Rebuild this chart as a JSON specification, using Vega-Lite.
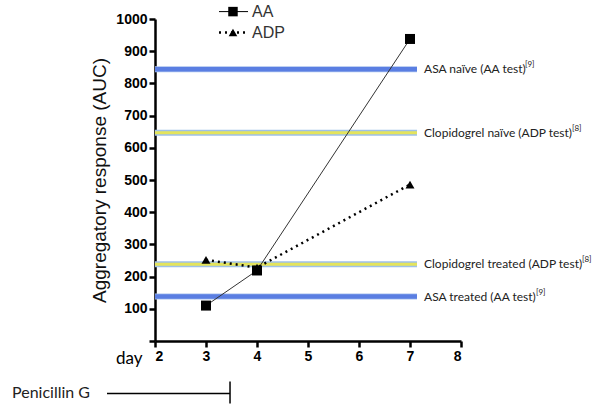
{
  "$schema": "https://vega.github.io/schema/vega-lite/v6.json",
  "width": 306,
  "height": 322,
  "autosize": {"type": "none"},
  "padding": {"left": 155, "top": 19, "right": 139, "bottom": 69},
  "background": "white",
  "config": {
    "view": {"stroke": null},
    "axis": {
      "grid": false,
      "domainColor": "black",
      "domainWidth": 2.5,
      "tickColor": "black",
      "tickWidth": 2.5,
      "tickSize": 6,
      "labelFont": "Liberation Sans",
      "labelFontWeight": "bold",
      "labelFontSize": 14,
      "labelColor": "black",
      "labelPadding": 2,
      "labelOverlap": false
    },
    "axisY": {"tickCount": 20},
    "text": {"font": "Lato"}
  },
  "datasets": {
    "refs": [
      {"label": "ASA naïve (AA test)", "ref": "[9]", "drug": "ASA", "value": 844},
      {"label": "Clopidogrel naïve (ADP test)", "ref": "[8]", "drug": "Clopidogrel", "value": 647},
      {"label": "Clopidogrel treated (ADP test)", "ref": "[8]", "drug": "Clopidogrel", "value": 238},
      {"label": "ASA treated (AA test)", "ref": "[9]", "drug": "ASA", "value": 138}
    ],
    "points": [
      {"series": "AA", "day": 3, "value": 110},
      {"series": "AA", "day": 4, "value": 219},
      {"series": "AA", "day": 7, "value": 938},
      {"series": "ADP", "day": 3, "value": 252},
      {"series": "ADP", "day": 4, "value": 228},
      {"series": "ADP", "day": 7, "value": 486}
    ],
    "one": [{}]
  },
  "layer": [
    {
      "data": {"name": "refs"},
      "mark": {"type": "rule", "strokeWidth": 6, "strokeCap": "butt"},
      "encoding": {
        "x": {"datum": 2, "type": "quantitative", "scale": {"domain": [2, 8], "nice": false},
          "axis": {"values": [2, 3, 4, 5, 6, 7, 8], "tickCount": 20, "format": "d", "title": "day",
            "titleFont": "Lato", "titleFontWeight": "normal", "titleFontSize": 17, "titleColor": "black",
            "titleX": -13, "titleY": 17, "titleAlign": "right", "titleBaseline": "middle", "titleAnchor": null}},
        "x2": {"datum": 7.137},
        "y": {"field": "value", "type": "quantitative", "scale": {"domain": [0, 1000], "nice": false},
          "axis": {"values": [0, 100, 200, 300, 400, 500, 600, 700, 800, 900, 1000], "tickCount": 20, "labelOverlap": false,
            "labelExpr": "datum.value == 0 ? '' : datum.label", "format": "d",
            "title": "Aggregatory response (AUC)", "titleFont": "Liberation Sans", "titleFontSize": 19,
            "titleFontWeight": "normal", "titleColor": "#111",
            "titleX": -56, "titleY": 161, "titleAngle": -90, "titleAlign": "center", "titleBaseline": "middle"}},
        "stroke": {"field": "drug", "type": "nominal", "scale": {"domain": ["ASA", "Clopidogrel"], "range": ["#a9c1ee", "#9fc1e8"]}, "legend": null}
      }
    },
    {
      "data": {"name": "refs"},
      "mark": {"type": "rule", "strokeCap": "butt"},
      "encoding": {
        "x": {"datum": 2, "type": "quantitative"},
        "x2": {"datum": 7.137},
        "y": {"field": "value", "type": "quantitative"},
        "strokeWidth": {"field": "drug", "type": "nominal", "scale": {"domain": ["ASA", "Clopidogrel"], "range": [4.5, 3]}, "legend": null},
        "color": {"field": "drug", "type": "nominal", "scale": {"domain": ["ASA", "Clopidogrel"], "range": ["#5a7ee2", "#e4e45c"]}, "legend": null}
      }
    },
    {
      "data": {"name": "refs"},
      "mark": {"type": "text", "align": "left", "baseline": "middle", "fontSize": 12, "color": "#222"},
      "encoding": {
        "x": {"datum": 7.275, "type": "quantitative"},
        "y": {"field": "value", "type": "quantitative"},
        "text": {"field": "label"}
      }
    },
    {
      "data": {"name": "refs"},
      "transform": [{"filter": "datum.label == 'ASA naïve (AA test)'"}],
      "mark": {"type": "text", "align": "left", "baseline": "middle", "fontSize": 8, "color": "#222", "dx": 101, "dy": -4},
      "encoding": {"x": {"datum": 7.275, "type": "quantitative"}, "y": {"field": "value", "type": "quantitative"}, "text": {"field": "ref"}}
    },
    {
      "data": {"name": "refs"},
      "transform": [{"filter": "datum.label == 'Clopidogrel naïve (ADP test)'"}],
      "mark": {"type": "text", "align": "left", "baseline": "middle", "fontSize": 8, "color": "#222", "dx": 148, "dy": -4},
      "encoding": {"x": {"datum": 7.275, "type": "quantitative"}, "y": {"field": "value", "type": "quantitative"}, "text": {"field": "ref"}}
    },
    {
      "data": {"name": "refs"},
      "transform": [{"filter": "datum.label == 'Clopidogrel treated (ADP test)'"}],
      "mark": {"type": "text", "align": "left", "baseline": "middle", "fontSize": 8, "color": "#222", "dx": 158, "dy": -4},
      "encoding": {"x": {"datum": 7.275, "type": "quantitative"}, "y": {"field": "value", "type": "quantitative"}, "text": {"field": "ref"}}
    },
    {
      "data": {"name": "refs"},
      "transform": [{"filter": "datum.label == 'ASA treated (AA test)'"}],
      "mark": {"type": "text", "align": "left", "baseline": "middle", "fontSize": 8, "color": "#222", "dx": 112, "dy": -4},
      "encoding": {"x": {"datum": 7.275, "type": "quantitative"}, "y": {"field": "value", "type": "quantitative"}, "text": {"field": "ref"}}
    },
    {
      "data": {"name": "points"},
      "transform": [{"filter": "datum.series == 'AA'"}],
      "mark": {"type": "line", "color": "#333", "strokeWidth": 1},
      "encoding": {"x": {"field": "day", "type": "quantitative"}, "y": {"field": "value", "type": "quantitative"}}
    },
    {
      "data": {"name": "points"},
      "transform": [{"filter": "datum.series == 'ADP'"}],
      "mark": {"type": "line", "color": "black", "strokeWidth": 2.5, "strokeDash": [2, 4]},
      "encoding": {"x": {"field": "day", "type": "quantitative"}, "y": {"field": "value", "type": "quantitative"}}
    },
    {
      "data": {"name": "points"},
      "mark": {"type": "point", "filled": true, "color": "black", "opacity": 1},
      "encoding": {
        "x": {"field": "day", "type": "quantitative"},
        "y": {"field": "value", "type": "quantitative"},
        "shape": {"field": "series", "type": "nominal", "scale": {"domain": ["AA", "ADP"], "range": ["square", "triangle-up"]}, "legend": null},
        "size": {"field": "series", "type": "nominal", "scale": {"domain": ["AA", "ADP"], "range": [100, 80]}, "legend": null}
      }
    },
    {
      "data": {"name": "one"},
      "mark": {"type": "rule", "color": "black", "strokeWidth": 1, "clip": false},
      "encoding": {"x": {"datum": 3.255, "type": "quantitative"}, "x2": {"datum": 3.824}, "y": {"datum": 1023, "type": "quantitative"}}
    },
    {
      "data": {"name": "one"},
      "mark": {"type": "rule", "color": "black", "strokeWidth": 2.5, "strokeDash": [2, 4], "clip": false},
      "encoding": {"x": {"datum": 3.255, "type": "quantitative"}, "x2": {"datum": 3.824}, "y": {"datum": 958, "type": "quantitative"}}
    },
    {
      "data": {"name": "one"},
      "mark": {"type": "point", "shape": "square", "filled": true, "color": "black", "opacity": 1, "size": 90, "clip": false},
      "encoding": {"x": {"datum": 3.529, "type": "quantitative"}, "y": {"datum": 1023, "type": "quantitative"}}
    },
    {
      "data": {"name": "one"},
      "mark": {"type": "point", "shape": "triangle-up", "filled": true, "color": "black", "opacity": 1, "size": 75, "clip": false},
      "encoding": {"x": {"datum": 3.529, "type": "quantitative"}, "y": {"datum": 958, "type": "quantitative"}}
    },
    {
      "data": {"name": "one"},
      "mark": {"type": "text", "text": "AA", "font": "Liberation Sans", "fontSize": 16, "color": "#333", "align": "left", "baseline": "middle"},
      "encoding": {"x": {"datum": 3.902, "type": "quantitative"}, "y": {"datum": 1023, "type": "quantitative"}}
    },
    {
      "data": {"name": "one"},
      "mark": {"type": "text", "text": "ADP", "font": "Liberation Sans", "fontSize": 16, "color": "#333", "align": "left", "baseline": "middle"},
      "encoding": {"x": {"datum": 3.902, "type": "quantitative"}, "y": {"datum": 958, "type": "quantitative"}}
    },
    {
      "data": {"name": "one"},
      "mark": {"type": "rule", "color": "black", "strokeWidth": 1.5, "clip": false},
      "encoding": {"x": {"datum": 1.059, "type": "quantitative"}, "x2": {"datum": 3.471}, "y": {"datum": -163, "type": "quantitative"}}
    },
    {
      "data": {"name": "one"},
      "mark": {"type": "rule", "color": "black", "strokeWidth": 1.5, "clip": false},
      "encoding": {"x": {"datum": 3.471, "type": "quantitative"}, "y": {"datum": -126, "type": "quantitative"}, "y2": {"datum": -194}}
    },
    {
      "data": {"name": "one"},
      "mark": {"type": "text", "text": "Penicillin G", "fontSize": 16, "color": "#222", "align": "left", "baseline": "middle"},
      "encoding": {"x": {"datum": -0.804, "type": "quantitative"}, "y": {"datum": -163, "type": "quantitative"}}
    }
  ]
}
